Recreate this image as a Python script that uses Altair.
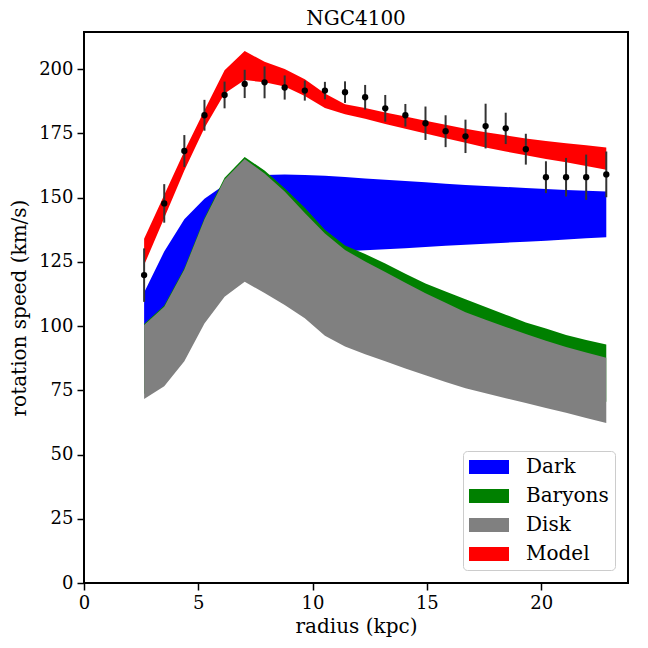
import altair as alt
import pandas as pd

# ---- data ----
radius = [2.63, 3.51, 4.39, 5.27, 6.15, 7.03, 7.90, 8.78, 9.66, 10.54, 11.42, 12.30,
          13.18, 14.06, 14.94, 15.82, 16.69, 17.57, 18.45, 19.33, 20.21, 21.09, 21.97, 22.85]
v_obs = [119.8, 147.7, 168.1, 182.0, 189.9, 194.2, 194.8, 192.8, 191.6, 191.6, 191.0, 189.0,
         184.7, 182.0, 178.9, 175.8, 173.8, 177.8, 176.9, 168.8, 157.9, 157.9, 157.9, 159.0]
v_err = [10.4, 7.5, 6.2, 6.0, 5.2, 5.5, 6.2, 4.7, 3.9, 3.4, 4.2, 4.8,
         5.2, 4.4, 6.5, 6.2, 6.5, 8.7, 6.1, 6.0, 6.2, 7.5, 8.8, 8.9]

model_lo = [123.7, 142.0, 160.5, 177.0, 190.5, 195.7, 194.8, 193.2, 189.5, 184.8, 182.4, 180.6,
            178.6, 176.8, 174.9, 173.1, 171.3, 169.5, 167.9, 166.4, 165.0, 163.7, 162.3, 160.8]
model_hi = [134.0, 151.0, 168.0, 184.0, 199.5, 207.0, 202.8, 200.0, 196.0, 190.5, 186.3, 184.8,
            183.1, 181.5, 179.9, 178.3, 176.8, 175.4, 174.2, 173.0, 172.0, 171.1, 170.3, 169.5]
dark_lo = [85.0, 93.0, 102.0, 110.0, 116.0, 121.0, 124.5, 126.5, 128.0, 128.8, 129.1, 129.5,
           129.9, 130.3, 130.7, 131.2, 131.6, 132.0, 132.4, 132.8, 133.2, 133.7, 134.1, 134.5]
dark_hi = [113.0, 129.0, 141.5, 149.5, 155.0, 158.0, 158.8, 159.0, 158.8, 158.5, 158.0, 157.4,
           156.9, 156.4, 155.9, 155.4, 154.9, 154.5, 154.1, 153.7, 153.3, 152.9, 152.6, 152.3]
bary_lo = [73.5, 79.0, 89.0, 104.0, 114.5, 120.5, 116.5, 112.0, 107.0, 100.5, 97.0, 94.5,
           92.0, 89.5, 87.0, 84.5, 82.0, 80.0, 78.0, 76.0, 74.0, 72.5, 71.5, 70.5]
bary_hi = [100.8, 108.0, 122.5, 142.0, 157.7, 165.8, 160.5, 153.6, 146.0, 137.5, 131.3, 128.0,
           124.3, 120.3, 116.5, 113.4, 110.4, 107.4, 104.4, 101.4, 99.0, 96.5, 94.6, 92.8]
disk_lo = [71.6, 76.6, 86.3, 101.0, 111.4, 117.2, 112.8, 108.2, 103.0, 96.2, 92.0, 89.0,
           86.3, 83.5, 80.8, 78.2, 75.8, 73.8, 71.9, 70.0, 68.1, 66.2, 64.2, 62.3]
disk_hi = [100.4, 107.5, 122.0, 141.5, 157.0, 165.0, 159.3, 152.3, 144.0, 136.0, 129.6, 125.1,
           121.0, 116.8, 112.7, 109.0, 105.4, 102.4, 99.6, 96.9, 94.3, 91.8, 89.7, 87.6]

comp_names = ["Dark", "Baryons", "Disk", "Model"]
comp_colors = ["#0000ff", "#008000", "#808080", "#ff0000"]
x_ticks = [0, 5, 10, 15, 20]
y_ticks = [0, 25, 50, 75, 100, 125, 150, 175, 200]

# ---- tables ----
band_src = {"Dark": (dark_lo, dark_hi), "Baryons": (bary_lo, bary_hi),
            "Disk": (disk_lo, disk_hi), "Model": (model_lo, model_hi)}
frames = []
for name in comp_names:
    lo, hi = band_src[name]
    frames.append(pd.DataFrame({"r": radius, "lo": lo, "hi": hi, "component": name}))
bands = pd.concat(frames, ignore_index=True)

obs = pd.DataFrame({"r": radius, "v": v_obs,
                    "elo": [v - e for v, e in zip(v_obs, v_err)],
                    "ehi": [v + e for v, e in zip(v_obs, v_err)]})

FONT = "DejaVu Serif"
FS_TICK = 18
FS = 20

x_scale = alt.Scale(domain=[0, 23.8], nice=False, zero=False)
y_scale = alt.Scale(domain=[0, 214.4], nice=False, zero=False)

x_axis = alt.Axis(title="radius (kpc)", values=x_ticks, grid=False, domain=False,
                  tickSize=7, tickWidth=1.5, tickColor="black",
                  labelFont=FONT, labelFontSize=FS_TICK, labelColor="black", labelPadding=4,
                  labelFlush=False, titleFont=FONT, titleFontSize=FS,
                  titleFontWeight="normal", titleColor="black", titlePadding=4)
y_axis = alt.Axis(title="rotation speed (km/s)", values=y_ticks, grid=False, domain=False,
                  tickSize=7, tickWidth=1.5, tickColor="black",
                  labelFont=FONT, labelFontSize=FS_TICK, labelColor="black", labelPadding=4,
                  titleFont=FONT, titleFontSize=FS, titleFontWeight="normal",
                  titleColor="black", titlePadding=9)

legend = alt.Legend(title=None, orient="none", legendX=379, legendY=419, direction="vertical",
                    symbolType="M-1,-0.7H3V0.7H-1Z", symbolSize=400, symbolStrokeWidth=0,
                    symbolOpacity=1, labelFont=FONT, labelFontSize=FS, labelColor="black",
                    labelOffset=37, rowPadding=9, padding=6, fillColor="white",
                    strokeColor="#cccccc", cornerRadius=4, labelLimit=300)

color = alt.Color("component:N", scale=alt.Scale(domain=comp_names, range=comp_colors),
                  legend=legend)

base = alt.Chart(bands)
layers = []
for name in comp_names:
    layers.append(
        base.transform_filter(alt.datum.component == name)
        .mark_area(opacity=1, interpolate="linear")
        .encode(x=alt.X("r:Q", scale=x_scale, axis=x_axis),
                y=alt.Y("lo:Q", scale=y_scale, axis=y_axis),
                y2="hi:Q",
                color=color)
    )

errbars = alt.Chart(obs).mark_rule(color="#333333", strokeWidth=2).encode(
    x=alt.X("r:Q", scale=x_scale), y=alt.Y("elo:Q", scale=y_scale), y2="ehi:Q")
points = alt.Chart(obs).mark_circle(color="black", size=40, opacity=1).encode(
    x=alt.X("r:Q", scale=x_scale), y=alt.Y("v:Q", scale=y_scale))

chart = alt.layer(*layers, errbars, points).properties(
    width=544, height=551,
    title=alt.TitleParams("NGC4100", font=FONT, fontSize=FS, fontWeight="normal",
                          color="black", offset=3, anchor="middle"),
    autosize=alt.AutoSizeParams(type="none"),
    padding={"left": 76, "top": 24, "right": 12, "bottom": 57},
).configure_view(stroke="black", strokeWidth=2)

chart.save("out.html", embed_options={"renderer": "svg", "actions": False})
